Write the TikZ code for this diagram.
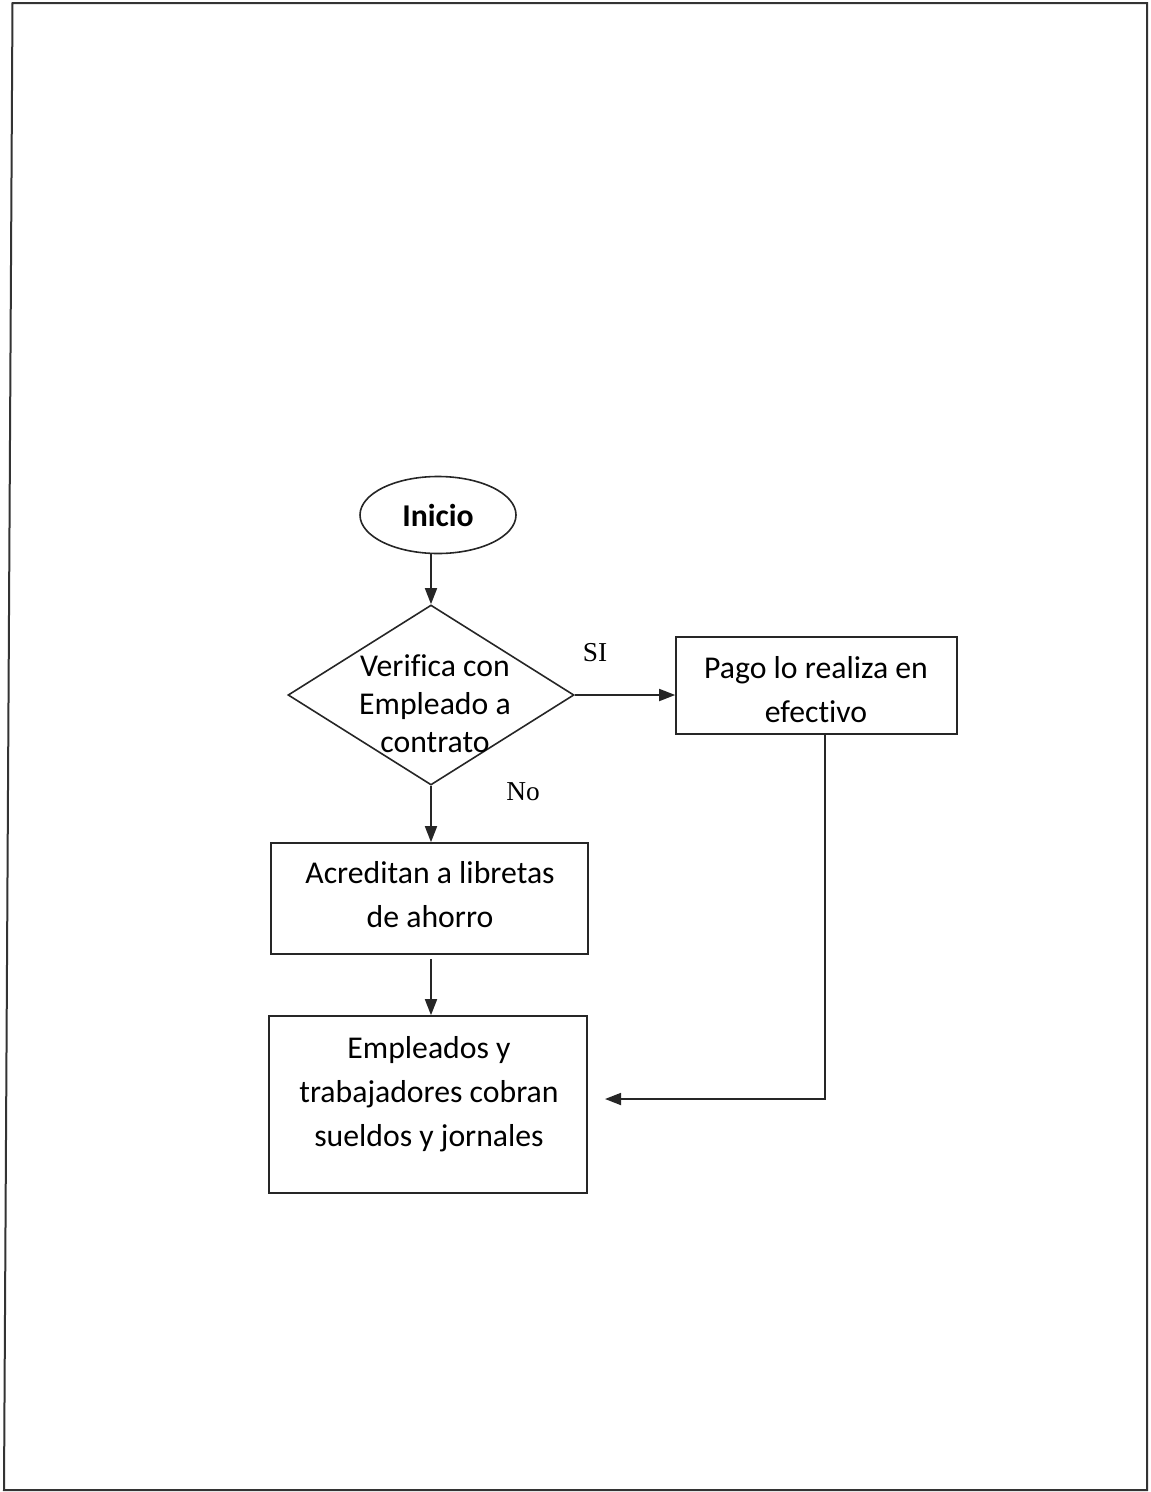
\documentclass[tikz,border=0pt]{standalone}
\usepackage{fontspec}
\setmainfont{Carlito}[Ligatures={NoCommon,NoContextual}]
\newfontfamily\labelfont{Liberation Serif}
\usetikzlibrary{shapes.geometric,arrows.meta}

\tikzset{
  flow/.style={draw=black!85, line width=1.3pt},
  arrow/.style={flow, -{Triangle[length=12pt,width=9pt]}},
  boxshape/.style={draw=black!85, line width=1.2pt, rectangle, inner sep=0pt},
  boxtext/.style={align=center, inner sep=0pt, font=\fontsize{23.8pt}{33pt}\selectfont},
  branch/.style={inner sep=0pt, font=\labelfont\fontsize{20.5pt}{24pt}\selectfont}
}

\begin{document}
\begin{tikzpicture}[x=0.75pt, y=-0.75pt]
  \useasboundingbox (0,0) rectangle (1151,1492);

  % page frame
  \draw[black!80, line width=1.5pt] (12.5,3) -- (1147,3) -- (1147,1490) -- (4,1490) -- cycle;

  % start
  \node[ellipse, draw=black!85, line width=1.2pt, inner sep=0pt,
        minimum width=156*0.75pt, minimum height=77*0.75pt,
        font=\bfseries\fontsize{23.8pt}{33pt}\selectfont] (ini) at (438,515) {Inicio};

  % decision
  \node[diamond, draw=black!85, line width=1.2pt, inner sep=0pt,
        minimum width=286*0.75pt, minimum height=180*0.75pt] (dec) at (431,695) {};
  \node[boxtext, font=\fontsize{23.8pt}{28.5pt}\selectfont] (dectxt) at (435,704)
    {Verifica con\\Empleado a\\contrato};

  % cash payment
  \node[boxshape, minimum width=281*0.75pt, minimum height=97*0.75pt] (pago) at (816.5,685.5) {};
  \node[boxtext] (pagotxt) at (816,690) {Pago lo realiza en\\efectivo};

  % savings accounts
  \node[boxshape, minimum width=317*0.75pt, minimum height=111*0.75pt] (acr) at (429.5,898.5) {};
  \node[boxtext] (acrtxt) at (430,895) {Acreditan a libretas\\de ahorro};

  % wages collected
  \node[boxshape, minimum width=318*0.75pt, minimum height=177*0.75pt] (emp) at (428,1104.5) {};
  \node[boxtext] (emptxt) at (429,1094) {Empleados y\\trabajadores cobran\\sueldos y jornales};

  % branch labels
  \node[branch] (si) at (595,653) {SI};
  \node[branch] (no) at (523,792) {No};

  % connectors
  \coordinate (ent) at (605,1099);
  \draw[arrow] (dec.north |- ini.south) -- (dec.north);
  \draw[arrow] (dec.east) -- (dec.east -| pago.west);
  \draw[arrow] (dec.south) -- (dec.south |- acr.north);
  \draw[arrow, shorten <=3pt] (dec.south |- acr.south) -- (dec.south |- emp.north);
  \draw[arrow] ([xshift=6.4pt]pago.south) |- (ent);
\end{tikzpicture}
\end{document}
